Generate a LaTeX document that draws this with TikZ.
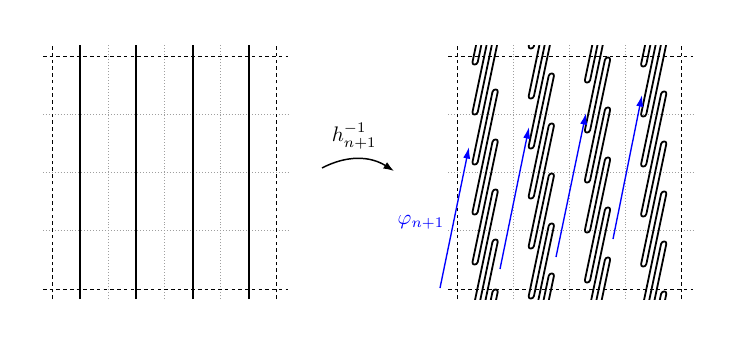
\documentclass[tikz,border=0pt]{standalone}
\usepackage{amsmath}
\usepackage{tikz}
\usepackage{xcolor}
\usetikzlibrary{arrows.meta, calc}
\definecolor{cFlow}{RGB}{0,0,255}
\tikzset{
	gridline/.style={gray!75, densely dotted, line width=0.4pt},
	boxline/.style ={black, dash pattern=on 1.7pt off 1.5pt, line width=0.45pt},
	fibre/.style   ={black, line width=0.95pt},
	fold/.style    ={black, line width=0.85pt, line join=round},
	flowvec/.style ={-{Latex[length=5.5pt, width=3.4pt]}, cFlow, line width=0.65pt},
	maparrow/.style={-{Latex[length=5pt, width=3.6pt]}, line width=0.7pt},
}

\begin{document}
\begin{tikzpicture}[x=0.475pt, y=0.475pt]
	\useasboundingbox (0,0) rectangle (747,343);
	% grid of both panels
	\foreach \ox in {52, 457} {
		\foreach \i in {1,...,3} {
			\draw[gridline] (\ox+56.2*\i, 44) -- (\ox+56.2*\i, 298);
			\draw[gridline] (\ox-9, 54+58.25*\i) -- (\ox+236, 54+58.25*\i);
		}
	}
	% left panel: vertical fibres
	\foreach \i in {0,...,3}
		\draw[fibre] (80.1+56.2*\i, 44) -- (80.1+56.2*\i, 298);
	% right panel: folded images of the fibres
	\foreach \j in {0,...,3} {
		\pgfmathsetmacro{\cx}{485.1+56.2*\j}
		\pgfmathsetmacro{\vst}{-119+16*\j}
		\pgfmathsetmacro{\tx}{\cx-12.6-0.21*\vst}
		\begin{scope}
			\clip (\cx-30,44) rectangle (\cx+30,298);
			\draw[fold, cm={1,0,0.21,1,(\tx,0)}] (0,\vst)
				\foreach \i in {0,...,8} { -- ++(0,120) arc[start angle=0, end angle=180, radius=2.625]
					-- ++(0,-70) arc[start angle=0, end angle=-180, radius=2.625] };
		\end{scope}
	}
	% dashed boxes
	\foreach \ox in {52, 457} {
		\draw[boxline] (\ox-9, 54) -- (\ox+236, 54);
		\draw[boxline] (\ox-9, 287) -- (\ox+236, 287);
		\draw[boxline] (\ox, 44) -- (\ox, 298);
		\draw[boxline] (\ox+224.8, 44) -- (\ox+224.8, 298);
	}
	% flow vectors
	\foreach \n/\sx/\sy/\ex/\ey in {1/440/55/469/196, 2/500/74/529/216, 3/556/86/586/230, 4/613/104/642/248} {
		\coordinate (vs\n) at (\sx,\sy);
		\coordinate (ve\n) at (\ex,\ey);
		\draw[flowvec] (vs\n) -- (ve\n);
	}
	\node[text=cFlow] (phi) at (421,121) {$\varphi_{n+1}$};
	% the map
	\coordinate (mapstart) at (322,175);
	\coordinate (mapend) at (394,172);
	\draw[maparrow] (mapstart) to[bend left=30] node[above=1pt, xshift=-2pt] (hlabel) {$h^{-1}_{n+1}$} (mapend);
\end{tikzpicture}
\end{document}
